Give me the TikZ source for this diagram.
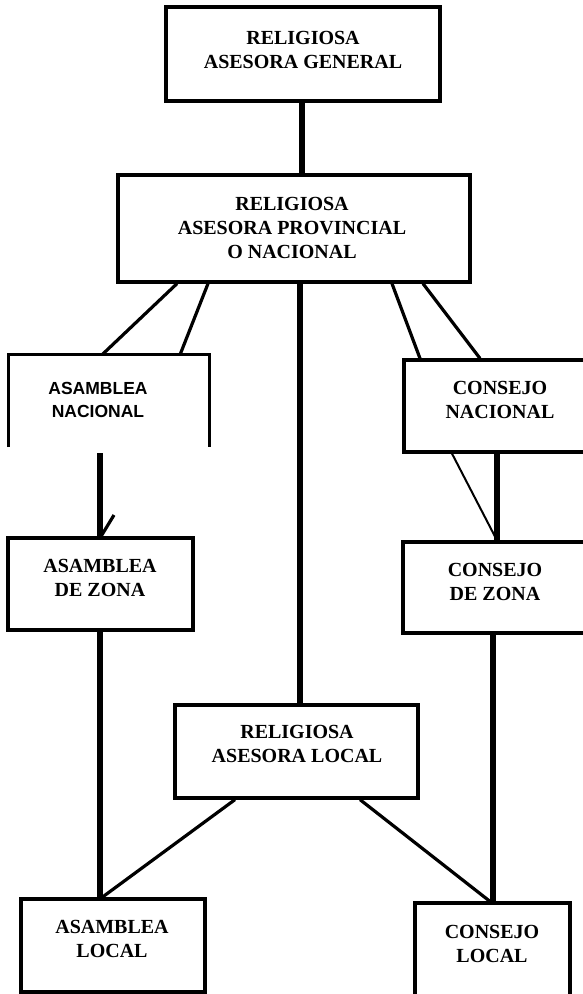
\documentclass[tikz,border=0pt]{standalone}
\usepackage{fontspec}
\setmainfont{Liberation Serif}
\newfontfamily\boxsans{Liberation Sans}
\tikzset{
  boxshape/.style={draw, line width=3.2pt, inner sep=0pt, rectangle},
  ghost/.style={inner sep=0pt, rectangle},
  sertext/.style={inner sep=0pt, align=center, font=\bfseries\fontsize{20}{24}\selectfont},
  santext/.style={inner sep=0pt, align=center, font=\boxsans\bfseries\fontsize{17.5}{23}\selectfont},
  thickline/.style={line width=5.5pt},
  midline/.style={line width=3.2pt},
  thinline/.style={line width=2pt},
}
\begin{document}
\begin{tikzpicture}[x=1pt,y=-1pt]
\useasboundingbox (0,0) rectangle (583,994);
\clip (0,0) rectangle (583,994);
% boxes
\node[boxshape, minimum width=274pt, minimum height=94pt] (gen) at (303,54) {};
\node[boxshape, minimum width=352pt, minimum height=107pt] (prov) at (294,228.5) {};
\node[ghost, minimum width=200pt, minimum height=92pt] (an) at (109,401) {};
\draw[line width=3.2pt] (an.south west) -- (an.north west) -- (an.north east) -- (an.south east);
\node[boxshape, minimum width=186pt, minimum height=92pt] (cn) at (497,406) {};
\node[boxshape, minimum width=185pt, minimum height=92pt] (az) at (100.5,584) {};
\node[boxshape, minimum width=186pt, minimum height=91pt] (cz) at (496,587.5) {};
\node[boxshape, minimum width=243pt, minimum height=93pt] (loc) at (296.5,751.5) {};
\node[boxshape, minimum width=184pt, minimum height=93pt] (al) at (113,945.5) {};
\node[boxshape, minimum width=155pt, minimum height=94pt] (cl) at (492.5,950) {};
% texts
\node[sertext] (tgen) at (303,49.5) {RELIGIOSA\\ASESORA GENERAL};
\node[sertext] (tprov) at (292,227.5) {RELIGIOSA\\ASESORA PROVINCIAL\\O NACIONAL};
\node[santext] (tan) at (98,399.5) {ASAMBLEA\\NACIONAL};
\node[sertext] (taz) at (100,577.5) {ASAMBLEA\\DE ZONA};
\node[sertext] (tcn) at (500,400) {CONSEJO\\NACIONAL};
\node[sertext] (tcz) at (495,581.5) {CONSEJO\\DE ZONA};
\node[sertext] (tloc) at (297,744) {RELIGIOSA\\ASESORA LOCAL};
\node[sertext] (tal) at (112,939) {ASAMBLEA\\LOCAL};
\node[sertext] (tcl) at (492,943.5) {CONSEJO\\LOCAL};
% helper coordinates
\coordinate (anTop) at (100,453);
\coordinate (tick) at (114,515);
% connectors
\draw[thickline] (gen.south -| 302,0) -- (prov.north -| 302,0);
\draw[thickline] (prov.south -| 300,0) -- (loc.north -| 300,0);
\draw[midline] (prov.south -| 177,0) -- (an.north -| 102,0);
\draw[midline] (prov.south -| 208,0) -- (an.north -| 180,0);
\draw[midline] (prov.south -| 392,0) -- (cn.north -| 420,0);
\draw[midline] (prov.south -| 423,0) -- (cn.north -| 480,0);
\draw[thickline] (anTop) -- (az.north -| 100,0);
\draw[midline] (tick) -- (az.north -| 101,0);
\draw[thickline] (cn.south -| 497,0) -- (cz.north -| 497,0);
\draw[thinline] (cn.south -| 452,0) -- (cz.north -| 497,0);
\draw[thickline] (az.south -| 100,0) -- (al.north -| 100,0);
\draw[thickline] (cz.south -| 493,0) -- (cl.north -| 493,0);
\draw[midline] (loc.south -| 235,0) -- (al.north -| 102,0);
\draw[midline] (loc.south -| 360,0) -- (cl.north -| 490,0);
\end{tikzpicture}
\end{document}
